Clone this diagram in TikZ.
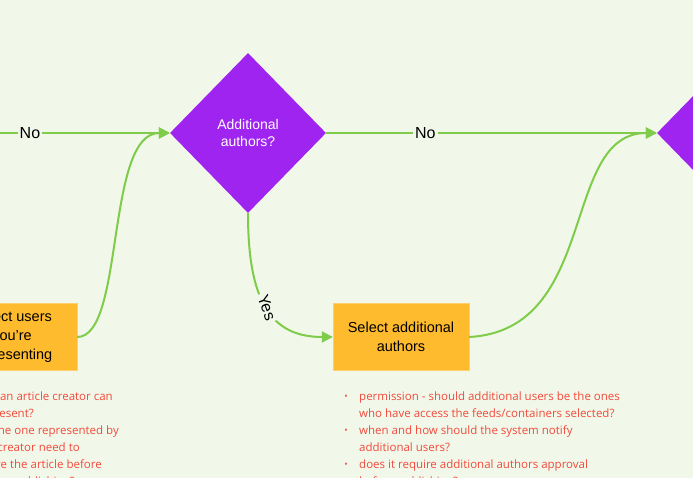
\documentclass[tikz,border=0pt]{standalone}
\usepackage{fontspec}
\setmainfont{Liberation Sans}
\newfontfamily\notes{Open Sans}
\usetikzlibrary{shapes.geometric,arrows.meta}
\definecolor{bg}{HTML}{F1F8EA}
\definecolor{lin}{HTML}{7FCB4A}
\definecolor{pur}{HTML}{A024F0}
\definecolor{box}{HTML}{FFBB2E}
\definecolor{note}{HTML}{F2493A}
\tikzset{x=1pt,y=-1pt,
 dia/.style={diamond,fill=pur,text=white,minimum width=156pt,minimum height=160pt,inner sep=0pt,align=center,font=\fontsize{14}{17}\selectfont},
 bx/.style={fill=box,draw=box!70!white,minimum height=67pt,inner sep=0pt,align=center,font=\fontsize{14.5}{19}\selectfont},
 arr/.style={draw=lin,line width=2pt,-{Triangle[length=11pt,width=11pt]}},
 lab/.style={fill=bg,inner sep=2pt,font=\fontsize{16}{18}\selectfont},
 nt/.style={text=note,font=\notes\fontsize{11.5}{14}\selectfont,inner sep=0pt,anchor=base west},
 nte/.style={nt,anchor=base east}}
\begin{document}
\begin{tikzpicture}
\useasboundingbox (0,0) rectangle (693,478);
\clip (0,0) rectangle (693,478);
\fill[bg] (0,0) rectangle (693,478);
\node[dia] (d1) at (248,133) {Additional\\authors?};
\node[dia] (d2) at (735,133) {};
\node[bx,minimum width=130pt] (b1) at (12,337) {Select users\\you're\\representing};
\node[bx,minimum width=136pt] (b2) at (401,337) {Select additional\\authors};
\coordinate (s) at (-5,133);
\draw[arr] (s) -- node[lab,pos=0.2] {No} (d1.west);
\draw[arr] (b1.east) .. controls (125,337) and (105,133) .. (d1.west);
\draw[arr] (d1.east) -- node[lab,pos=0.3] {No} (d2.west);
\draw[arr] (b2.east) .. controls (600,330) and (560,133) .. (d2.west);
\draw[arr] (d1.south) .. controls (248,300) and (270,337) .. node[lab,pos=0.5,rotate=-70] {Yes} (b2.west);
\node[nte] (l1) at (113,400) {Who can an article creator can};
\node[nte] (l2) at (34,417) {represent?};
\node[nte] (l3) at (119,434) {Is the one represented by};
\node[nte] (l4) at (80,451) {the creator need to};
\node[nte] (l5) at (102,468) {approve the article before};
\node[nte] (l6) at (75,485) {publishing?};
\node[nt] (r1) at (359,400) {permission - should additional users be the ones};
\node[nt] (r2) at (359,417) {who have access the feeds/containers selected?};
\node[nt] (r3) at (359,434) {when and how should the system notify};
\node[nt] (r4) at (359,451) {additional users?};
\node[nt] (r5) at (359,468) {does it require additional authors approval};
\node[nt] (r6) at (359,485) {before publishing?};
\foreach \y [count=\i] in {400,434,468}{\node[text=note,font=\notes\fontsize{9}{9}\selectfont,inner sep=0pt,anchor=base] (bu\i) at (346,\y-1) {•};}
\end{tikzpicture}
\end{document}
